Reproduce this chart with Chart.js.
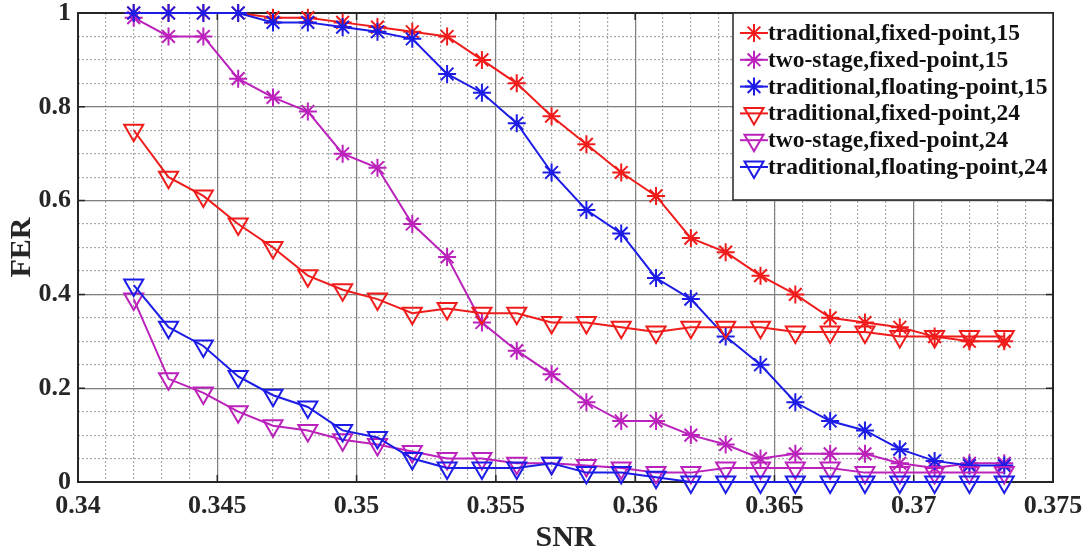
<!DOCTYPE html>
<html>
<head>
<meta charset="utf-8">
<script src="https://cdn.jsdelivr.net/npm/chart.js@4.4.0/dist/chart.umd.min.js"></script>
<style>
  html, body { margin: 0; padding: 0; background: #fff; }
  #wrap { width: 1089px; height: 553px; }
</style>
</head>
<body>
<div id="wrap"><canvas id="fer"></canvas></div>
<script>
// SNR noktalari (x ekseni)
const snr = [0.342, 0.34325, 0.3445, 0.34575, 0.347, 0.34825, 0.3495, 0.35075, 0.352, 0.35325,
  0.3545, 0.35575, 0.357, 0.35825, 0.3595, 0.36075, 0.362, 0.36325, 0.3645, 0.36575,
  0.367, 0.36825, 0.3695, 0.37075, 0.372, 0.37325];

// FER serileri
const tradFixed15 = [1, 1, 1, 1, 0.99, 0.99, 0.98, 0.97, 0.96, 0.95, 0.90, 0.85, 0.78, 0.72, 0.66,
  0.61, 0.52, 0.49, 0.44, 0.40, 0.35, 0.34, 0.33, 0.31, 0.30, 0.30];
const twoStage15 = [0.99, 0.95, 0.95, 0.86, 0.82, 0.79, 0.70, 0.67, 0.55, 0.48, 0.34, 0.28, 0.23, 0.17, 0.13,
  0.13, 0.10, 0.08, 0.05, 0.06, 0.06, 0.06, 0.04, 0.03, 0.04, 0.04];
const tradFloat15 = [1, 1, 1, 1, 0.98, 0.98, 0.97, 0.96, 0.945, 0.87, 0.83, 0.765, 0.66, 0.58, 0.53,
  0.435, 0.39, 0.31, 0.25, 0.17, 0.13, 0.11, 0.07, 0.045, 0.035, 0.035];
const tradFixed24 = [0.75, 0.65, 0.61, 0.55, 0.50, 0.44, 0.41, 0.39, 0.36, 0.37, 0.36, 0.36, 0.34, 0.34, 0.33,
  0.32, 0.33, 0.33, 0.33, 0.32, 0.32, 0.32, 0.31, 0.31, 0.31, 0.31];
const twoStage24 = [0.39, 0.22, 0.19, 0.15, 0.12, 0.11, 0.09, 0.08, 0.065, 0.05, 0.05, 0.04, 0.04, 0.035, 0.03,
  0.02, 0.02, 0.03, 0.03, 0.03, 0.03, 0.02, 0.02, 0.02, 0.02, 0.02];
const tradFloat24 = [0.42, 0.33, 0.29, 0.225, 0.185, 0.16, 0.11, 0.095, 0.05, 0.03, 0.03, 0.03, 0.04, 0.02, 0.02,
  0.01, 0, 0, 0, 0, 0, 0, 0, 0, 0, 0];

const seriesLabels = [
  'traditional,fixed-point,15',
  'two-stage,fixed-point,15',
  'traditional,floating-point,15',
  'traditional,fixed-point,24',
  'two-stage,fixed-point,24',
  'traditional,floating-point,24'
];
const seriesValues = [tradFixed15, twoStage15, tradFloat15, tradFixed24, twoStage24, tradFloat24];

const RED = '#f01c1c', MAG = '#bb22bb', BLUE = '#1c1ce6';
const colors = [RED, MAG, BLUE, RED, MAG, BLUE];
const FONT = '"Liberation Serif", "Times New Roman", serif';
const AXIS = '#262626';

const datasets = seriesValues.map((vals, i) => {
  const star = i < 3;
  return {
    label: seriesLabels[i],
    data: snr.map((x, k) => ({ x: x, y: vals[k] })),
    borderColor: colors[i],
    backgroundColor: 'rgba(0,0,0,0)',
    borderWidth: 2,
    tension: 0,
    pointStyle: star ? 'star' : 'triangle',
    pointRotation: star ? 0 : 180,
    pointRadius: star ? 9 : 11,
    pointBorderWidth: 2,
    pointBorderColor: colors[i],
    pointBackgroundColor: 'rgba(0,0,0,0)',
    clip: false,
    order: 6 - i
  };
});

// legend isaretleri
function drawMarker(ctx, style, x, y, r) {
  ctx.beginPath();
  if (style === 'star') {
    for (let a = 0; a < 4; a++) {
      const ang = a * Math.PI / 4;
      ctx.moveTo(x - Math.cos(ang) * r, y - Math.sin(ang) * r);
      ctx.lineTo(x + Math.cos(ang) * r, y + Math.sin(ang) * r);
    }
  } else {
    let rad = Math.PI;
    ctx.moveTo(x + Math.sin(rad) * r, y - Math.cos(rad) * r);
    rad += 2 * Math.PI / 3;
    ctx.lineTo(x + Math.sin(rad) * r, y - Math.cos(rad) * r);
    rad += 2 * Math.PI / 3;
    ctx.lineTo(x + Math.sin(rad) * r, y - Math.cos(rad) * r);
    ctx.closePath();
  }
  ctx.stroke();
}

// kutu cercevesi + ic tikler
const boxPlugin = {
  id: 'box',
  beforeDatasetsDraw(chart) {
    const { ctx, chartArea: a, scales } = chart;
    ctx.save();
    ctx.strokeStyle = AXIS;
    ctx.lineWidth = 2;
    ctx.strokeRect(a.left, a.top, a.right - a.left, a.bottom - a.top);
    ctx.lineWidth = 1.5;
    ctx.beginPath();
    scales.x.ticks.forEach(t => {
      const px = scales.x.getPixelForValue(t.value);
      ctx.moveTo(px, a.bottom); ctx.lineTo(px, a.bottom - 7);
      ctx.moveTo(px, a.top); ctx.lineTo(px, a.top + 7);
    });
    scales.y.ticks.forEach(t => {
      const py = scales.y.getPixelForValue(t.value);
      ctx.moveTo(a.left, py); ctx.lineTo(a.left + 7, py);
      ctx.moveTo(a.right, py); ctx.lineTo(a.right - 7, py);
    });
    ctx.stroke();
    ctx.restore();
  }
};

const legendPlugin = {
  id: 'boxLegend',
  afterDatasetsDraw(chart) {
    const { ctx, chartArea: a } = chart;
    const w = 320, h = 187;
    const left = a.right - w, top = a.top;
    ctx.save();
    ctx.fillStyle = '#fff';
    ctx.fillRect(left, top, w, h);
    ctx.strokeStyle = AXIS;
    ctx.lineWidth = 1.5;
    ctx.strokeRect(left, top, w, h);
    ctx.font = 'bold 23.5px ' + FONT;
    ctx.textBaseline = 'middle';
    ctx.textAlign = 'left';
    chart.data.datasets.forEach((ds, i) => {
      const y = top + 20 + i * 26.8;
      ctx.strokeStyle = ds.borderColor;
      ctx.lineWidth = 2;
      ctx.beginPath();
      ctx.moveTo(left + 7, y); ctx.lineTo(left + 35, y);
      ctx.stroke();
      drawMarker(ctx, ds.pointStyle, left + 21, y, ds.pointStyle === 'star' ? 9 : 11);
      ctx.fillStyle = '#111';
      ctx.fillText(ds.label, left + 35, y + 1);
    });
    ctx.restore();
  }
};

const tickFont = { family: FONT, size: 26, weight: 'bold', lineHeight: 1 };
const fmt = v => String(parseFloat(Number(v).toFixed(4)));
const noPad = s => { s.paddingTop = 0; s.paddingBottom = 0; s.paddingLeft = 0; s.paddingRight = 0; };

new Chart(document.getElementById('fer'), {
  type: 'line',
  data: { datasets: datasets },
  options: {
    responsive: true,
    maintainAspectRatio: false,
    animation: false,
    devicePixelRatio: 1,
    layout: { padding: { top: 13, right: 36, left: 0, bottom: 0 } },
    plugins: { legend: { display: false }, tooltip: { enabled: false } },
    scales: {
      x: {
        type: 'linear', position: 'bottom', min: 0.34, max: 0.375,
        ticks: { stepSize: 0.005, callback: fmt, font: tickFont, color: AXIS, padding: 11,
          autoSkip: false, maxRotation: 0, maxTicksLimit: 100 },
        grid: { color: '#808080', lineWidth: 1.2, drawTicks: false },
        border: { color: AXIS, width: 2 },
        title: { display: true, text: 'SNR', color: AXIS, padding: 0,
          font: { family: FONT, size: 30, weight: 'bold', lineHeight: 1 } },
        afterFit: s => { s.height = 71; noPad(s); }
      },
      xMinor: {
        type: 'linear', position: 'bottom', min: 0.34, max: 0.375,
        ticks: { display: false, stepSize: 0.001, maxTicksLimit: 100, autoSkip: false },
        grid: { color: '#aaaaaa', lineWidth: 1.2, drawTicks: false, z: -2 },
        border: { display: false, dash: [2, 2] },
        afterFit: s => { s.height = 0; noPad(s); }
      },
      y: {
        type: 'linear', position: 'left', min: 0, max: 1,
        ticks: { stepSize: 0.2, callback: fmt, font: tickFont, color: AXIS, padding: 7 },
        grid: { color: '#808080', lineWidth: 1.2, drawTicks: false },
        border: { color: AXIS, width: 2 },
        title: { display: true, text: 'FER', color: AXIS, padding: { top: 4, bottom: 0 },
          font: { family: FONT, size: 30, weight: 'bold', lineHeight: 1.2 } },
        afterFit: s => { s.width = 78; noPad(s); }
      },
      yMinor: {
        type: 'linear', position: 'left', min: 0, max: 1,
        ticks: { display: false, stepSize: 0.05, maxTicksLimit: 100 },
        grid: { color: '#aaaaaa', lineWidth: 1.2, drawTicks: false, z: -2 },
        border: { display: false, dash: [2, 2] },
        afterFit: s => { s.width = 0; noPad(s); }
      }
    }
  },
  plugins: [boxPlugin, legendPlugin]
});
</script>
</body>
</html>
